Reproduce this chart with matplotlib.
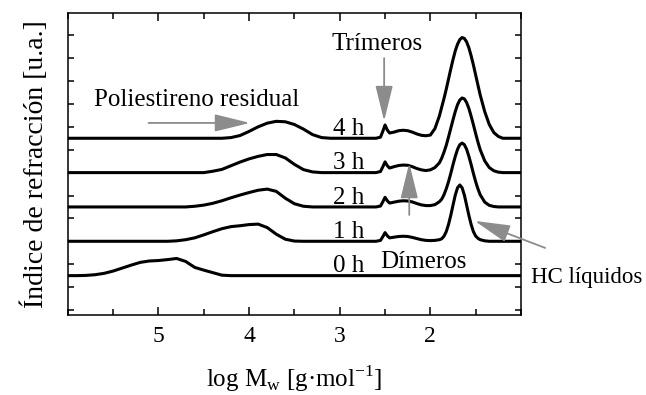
import matplotlib
matplotlib.use("Agg")
import matplotlib.pyplot as plt
from matplotlib.ticker import MultipleLocator, NullFormatter

plt.rcParams['font.family'] = ['Liberation Serif', 'DejaVu Serif']
plt.rcParams['mathtext.fontset'] = 'custom'
plt.rcParams['mathtext.rm'] = 'Liberation Serif'

# reaction times and the vertical offset of each chromatogram
times = ['0 h', '1 h', '2 h', '3 h', '4 h']
baselines = [1.5, 3.0, 4.5, 6.0, 7.5]

# high-mass region (residual polystyrene), log Mw from 6.0 down to 2.7
heavy_x = [6.0, 5.9, 5.8, 5.7, 5.6, 5.5, 5.4, 5.3, 5.2, 5.1, 5.0, 4.9, 4.8, 4.7,
           4.6, 4.5, 4.4, 4.3, 4.2, 4.1, 4.0, 3.9, 3.8, 3.7, 3.6, 3.5, 3.4, 3.3,
           3.2, 3.1, 3.0, 2.9, 2.8, 2.7]
heavy_0h = [0, 0, 0.01, 0.04, 0.10, 0.20, 0.33, 0.46, 0.58, 0.64, 0.66, 0.70, 0.75, 0.62,
            0.36, 0.24, 0.13, 0.02, 0, 0, 0, 0, 0, 0, 0, 0, 0, 0,
            0, 0, 0, 0, 0, 0]
heavy_1h = [0, 0, 0, 0, 0, 0, 0, 0, 0, 0, 0, 0, 0.02, 0.07,
            0.15, 0.28, 0.42, 0.55, 0.64, 0.68, 0.73, 0.75, 0.60, 0.31, 0.09, 0.01, 0, 0,
            0, 0, 0, 0, 0, 0]
heavy_2h = [0, 0, 0, 0, 0, 0, 0, 0, 0, 0, 0, 0, 0, 0,
            0.03, 0.08, 0.16, 0.27, 0.40, 0.52, 0.63, 0.73, 0.78, 0.68, 0.38, 0.14, 0.03, 0,
            0, 0, 0, 0, 0, 0]
heavy_3h = [0, 0, 0, 0, 0, 0, 0, 0, 0, 0, 0, 0, 0, 0,
            0, 0, 0.06, 0.14, 0.30, 0.46, 0.60, 0.71, 0.79, 0.79, 0.64, 0.36, 0.13, 0.03,
            0, 0, 0, 0, 0, 0]
heavy_4h = [0, 0, 0, 0, 0, 0, 0, 0, 0, 0, 0, 0, 0, 0,
            0, 0, 0, 0, 0.03, 0.12, 0.30, 0.50, 0.66, 0.74, 0.72, 0.60, 0.40, 0.16,
            0.03, 0, 0, 0, 0, 0]

# low-mass region (trimers, dimers, liquid hydrocarbons), log Mw from 2.6 down to 1.0
light_x = [2.6, 2.55, 2.525, 2.5, 2.475, 2.45, 2.4, 2.35, 2.3, 2.25, 2.2, 2.15, 2.1, 2.05,
           2.0, 1.95, 1.9, 1.875, 1.85, 1.825, 1.8, 1.775, 1.75, 1.725, 1.7, 1.675, 1.65,
           1.625, 1.6, 1.575, 1.55, 1.525, 1.5, 1.475, 1.45, 1.4, 1.35, 1.3, 1.25, 1.2, 1.0]
light_0h = [0] * 41
light_1h = [0, 0.04, 0.20, 0.38, 0.24, 0.15, 0.18, 0.21, 0.22, 0.21, 0.17, 0.12, 0.07, 0.04,
            0.03, 0.04, 0.07, 0.11, 0.22, 0.42, 0.73, 1.13, 1.58, 2.02, 2.34, 2.46, 2.34,
            2.02, 1.58, 1.13, 0.73, 0.42, 0.23, 0.13, 0.07, 0.02, 0, 0, 0, 0, 0]
light_2h = [0, 0.04, 0.22, 0.42, 0.27, 0.17, 0.21, 0.25, 0.27, 0.26, 0.22, 0.15, 0.09, 0.06,
            0.06, 0.10, 0.23, 0.34, 0.53, 0.79, 1.10, 1.46, 1.85, 2.21, 2.52, 2.72, 2.79,
            2.72, 2.52, 2.21, 1.85, 1.46, 1.10, 0.79, 0.53, 0.21, 0.07, 0.02, 0, 0, 0]
light_3h = [0, 0.05, 0.25, 0.47, 0.30, 0.20, 0.26, 0.31, 0.33, 0.32, 0.26, 0.18, 0.12, 0.09,
            0.12, 0.22, 0.43, 0.63, 0.89, 1.19, 1.55, 1.93, 2.31, 2.67, 2.97, 3.17, 3.26,
            3.22, 3.06, 2.80, 2.46, 2.09, 1.70, 1.33, 1.00, 0.51, 0.22, 0.08, 0.02, 0, 0]
light_4h = [0, 0.05, 0.30, 0.58, 0.36, 0.23, 0.27, 0.33, 0.35, 0.33, 0.27, 0.19, 0.13, 0.11,
            0.14, 0.42, 0.98, 1.36, 1.73, 2.14, 2.58, 3.02, 3.44, 3.82, 4.11, 4.31, 4.40,
            4.36, 4.21, 3.95, 3.60, 3.20, 2.76, 2.32, 1.89, 1.16, 0.60, 0.25, 0.08, 0, 0]

heavy = [heavy_0h, heavy_1h, heavy_2h, heavy_3h, heavy_4h]
light = [light_0h, light_1h, light_2h, light_3h, light_4h]

fig = plt.figure(figsize=(6.46, 3.95), dpi=100)
ax = fig.add_axes([0.105, 0.2025, 0.7015, 0.7645])

arrow_gray = '#8c8c8c'
fs = 18
for label, base, h, l in zip(times, baselines, heavy, light):
    xs = heavy_x + light_x
    ys = [base + v for v in h + l]
    ax.plot(xs, ys, color='black', lw=2.2, solid_capstyle='butt', clip_on=False)
    ax.text(2.73, base + 0.15, label, ha='right', va='baseline', fontsize=fs)

ax.set_xlim(6, 1)
ax.set_ylim(-0.22, 12.97)

ax.xaxis.set_major_locator(MultipleLocator(1))
ax.xaxis.set_minor_locator(MultipleLocator(0.5))
ax.yaxis.set_major_locator(MultipleLocator(1))
ax.yaxis.set_major_formatter(NullFormatter())
ax.tick_params(axis='both', which='both', direction='in', top=True, right=True, width=1.1)
ax.tick_params(axis='x', which='major', length=6, labelsize=17, pad=8)
ax.tick_params(axis='x', which='minor', length=4)
ax.tick_params(axis='y', which='major', length=4)
ax.set_xticks([5, 4, 3, 2])
for s in ax.spines.values():
    s.set_linewidth(1.1)

ax.set_xlabel(r'log M$_\mathregular{w}$ [g·mol$^\mathregular{-1}$]', fontsize=fs, labelpad=12)
ax.set_ylabel('Índice de refracción [u.a.]', fontsize=20, labelpad=10)

head = dict(arrowstyle='-|>,head_length=1.1,head_width=0.27', color=arrow_gray,
            lw=1.3, mutation_scale=20, shrinkA=0, shrinkB=0)

ax.annotate('', xy=(3.99, 8.17), xytext=(5.11, 8.17), arrowprops=head)
ax.text(4.58, 9.17, 'Poliestireno residual', ha='center', va='center', fontsize=fs)

ax.annotate('', xy=(2.51, 8.25), xytext=(2.51, 11.0), arrowprops=head)
ax.text(2.59, 11.62, 'Trímeros', ha='center', va='center', fontsize=fs)

ax.annotate('', xy=(2.233, 6.42), xytext=(2.233, 4.15), arrowprops=head)
ax.text(2.08, 2.1, 'Dímeros', ha='center', va='center', fontsize=fs)

ax.annotate('', xy=(1.511, 3.89), xytext=(0.733, 2.71), arrowprops=head,
            annotation_clip=False)
ax.text(0.89, 1.44, 'HC líquidos', ha='left', va='center', fontsize=16.5)

fig.savefig('out.png', dpi=100)
